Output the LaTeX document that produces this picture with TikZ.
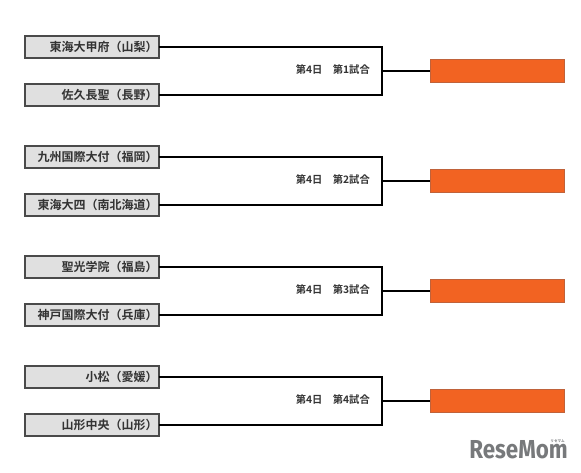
\documentclass[tikz,border=0pt]{standalone}
\usepackage{fontspec}
\setmainfont{Noto Sans CJK JP}[BoldFont={* Bold}]
\newfontfamily\logofont{Fira Sans}[BoldFont={* Bold}]
\definecolor{teamfill}{HTML}{E0E0E0}
\definecolor{teamedge}{HTML}{4A4A4A}
\definecolor{winfill}{HTML}{F26322}
\definecolor{winedge}{HTML}{C0623A}
\definecolor{labeltext}{HTML}{333333}
\definecolor{logogrey}{HTML}{77797B}
\tikzset{
  x=1pt,y=-1pt,
  team/.style={draw=teamedge,fill=teamfill,line width=1.6pt,minimum width=134pt,minimum height=21.5pt,inner sep=0pt,outer sep=0pt,anchor=center,text=labeltext,font=\fontsize{12}{13}\selectfont\bfseries,align=right},
  win/.style={draw=winedge,fill=winfill,line width=.6pt,minimum width=134pt,minimum height=23.5pt,inner sep=0pt,outer sep=0pt},
  game/.style={anchor=east,inner sep=0pt,text=labeltext,font=\fontsize{10.3}{11}\selectfont\bfseries},
  link/.style={draw=black,line width=1.8pt},
}
\newcommand{\teamlabel}[1]{\makebox[132pt][r]{#1}}
\begin{document}
\begin{tikzpicture}
\useasboundingbox (0,0) rectangle (581,472);
% group 1
\node[team] (a1) at (91.7,47) {\teamlabel{東海大甲府（山梨）}};
\node[team] (b1) at (91.7,95) {\teamlabel{佐久長聖（長野）}};
\node[win] (w1) at (497,71) {};
\coordinate (j1) at (381.7,71);
\node[game] (g1) at (370,69.3) {第4日　第1試合};
\draw[link] (a1.east) -| (j1) |- (b1.east);
\draw[link] (j1) -- (w1.west);
% group 2
\node[team] (a2) at (91.7,157) {\teamlabel{九州国際大付（福岡）}};
\node[team] (b2) at (91.7,205) {\teamlabel{東海大四（南北海道）}};
\node[win] (w2) at (497,181) {};
\coordinate (j2) at (381.7,181);
\node[game] (g2) at (370,179.3) {第4日　第2試合};
\draw[link] (a2.east) -| (j2) |- (b2.east);
\draw[link] (j2) -- (w2.west);
% group 3
\node[team] (a3) at (91.7,267) {\teamlabel{聖光学院（福島）}};
\node[team] (b3) at (91.7,315) {\teamlabel{神戸国際大付（兵庫）}};
\node[win] (w3) at (497,291) {};
\coordinate (j3) at (381.7,291);
\node[game] (g3) at (370,289.3) {第4日　第3試合};
\draw[link] (a3.east) -| (j3) |- (b3.east);
\draw[link] (j3) -- (w3.west);
% group 4
\node[team] (a4) at (91.7,377) {\teamlabel{小松（愛媛）}};
\node[team] (b4) at (91.7,425) {\teamlabel{山形中央（山形）}};
\node[win] (w4) at (497,401) {};
\coordinate (j4) at (381.7,401);
\node[game] (g4) at (370,399.3) {第4日　第4試合};
\draw[link] (a4.east) -| (j4) |- (b4.east);
\draw[link] (j4) -- (w4.west);
% logo
\node[anchor=base east,inner sep=0pt,text=logogrey,font=\logofont\bfseries\fontsize{26}{27}\selectfont] (logo) at (568,458) {\scalebox{.86}[1]{ReseMom}};
\node[anchor=base east,inner sep=0pt,text=logogrey,font=\fontsize{3.6}{4}\selectfont\bfseries] (kana) at (565,442) {リセマム};
\end{tikzpicture}
\end{document}
